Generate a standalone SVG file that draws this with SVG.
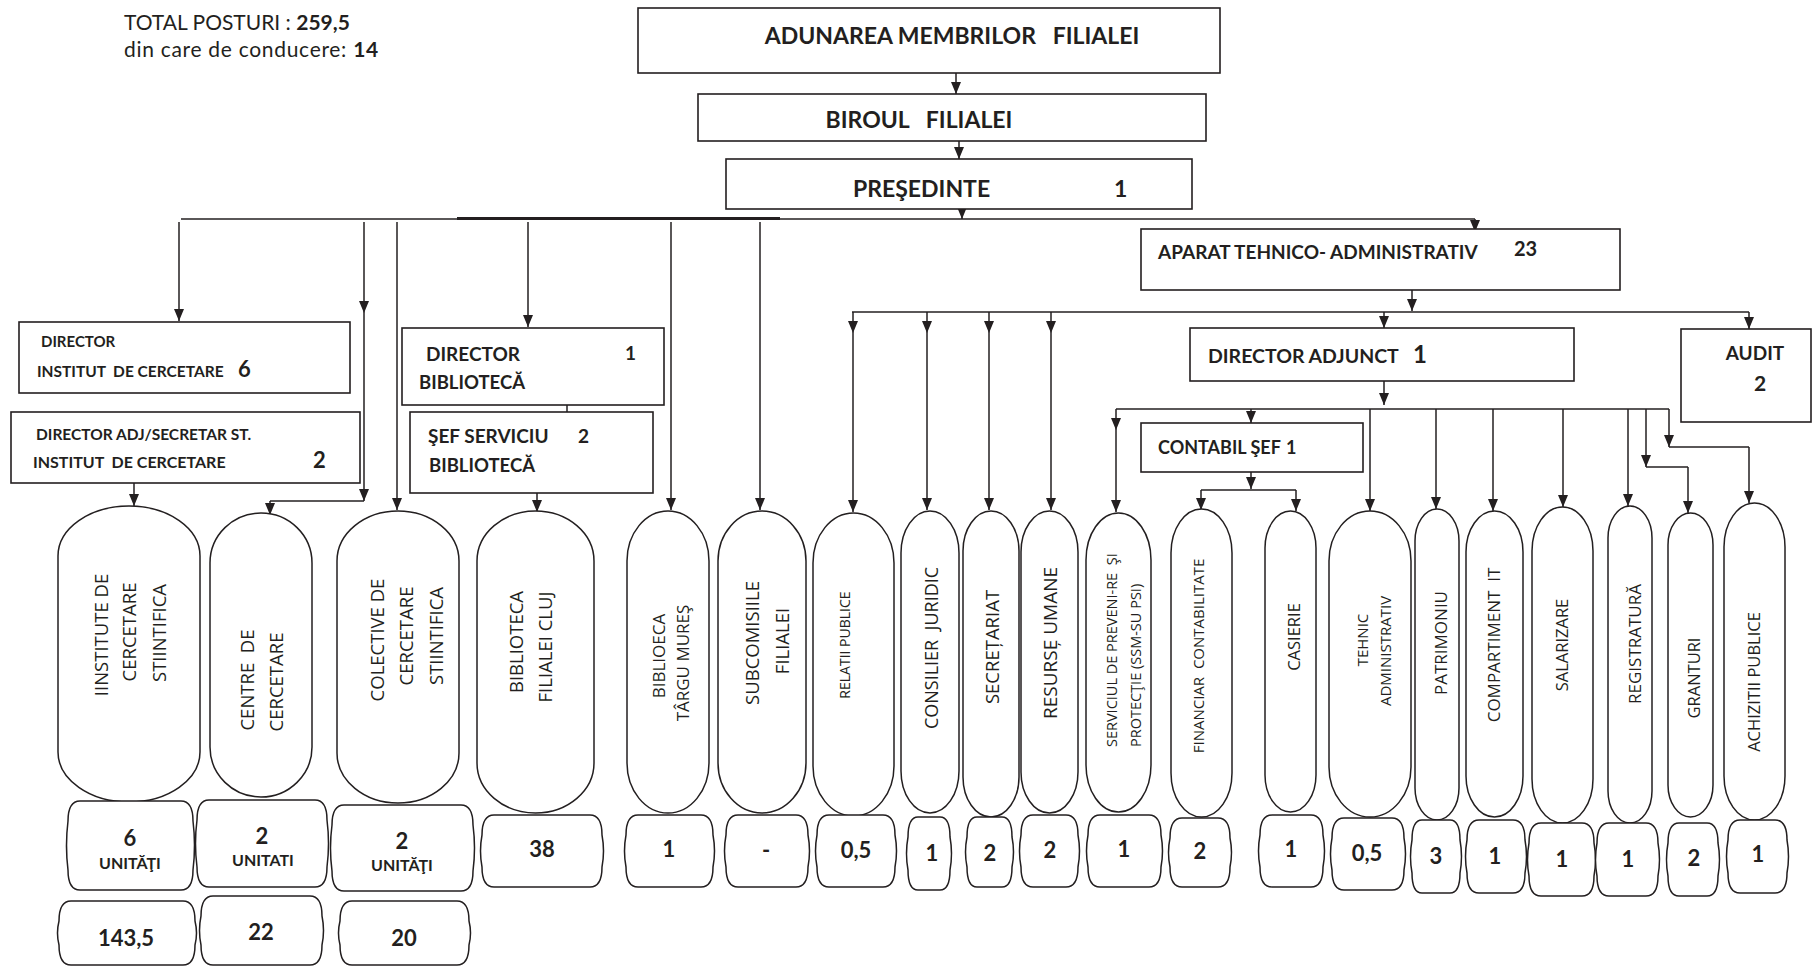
<svg xmlns="http://www.w3.org/2000/svg" width="1812" height="967" viewBox="0 0 1812 967">
<style>
.bx{fill:#fff;stroke:#231f20;stroke-width:1.6}
.pill{fill:#fff;stroke:#231f20;stroke-width:1.5}
.cn{fill:#fff;stroke:#231f20;stroke-width:1.5}
.ln{fill:none;stroke:#231f20;stroke-width:1.5}
.thick{fill:none;stroke:#231f20;stroke-width:3}
.ar{fill:none;stroke:#231f20;stroke-width:1.5;marker-end:url(#ah)}
.b{font-family:Lato,'Open Sans',sans-serif;font-weight:700;fill:#231f20}
.r{font-family:Lato,'Open Sans',sans-serif;font-weight:400;fill:#231f20}
.v{font-family:'Open Sans','DejaVu Sans',sans-serif;fill:#231f20;text-anchor:middle}
.vs{font-family:'Open Sans','DejaVu Sans',sans-serif;fill:#231f20;text-anchor:start}
.n{font-family:Lato,'Open Sans',sans-serif;font-weight:700;fill:#231f20;text-anchor:middle;font-size:22px}
.u{font-family:Lato,'Open Sans',sans-serif;font-weight:700;fill:#231f20;text-anchor:middle;font-size:16px}
</style>
<defs>
<marker id="ah" viewBox="0 0 12 10" refX="12" refY="5" markerWidth="12" markerHeight="10" markerUnits="userSpaceOnUse" orient="auto"><path d="M0,0 L12,5 L0,10 z" fill="#231f20"/></marker>
</defs>
<rect width="1812" height="967" fill="#fff"/>

<g id="totals">
<text class="r" x="124" y="30" font-size="21" xml:space="preserve">TOTAL POSTURI : <tspan class="b">259,5</tspan></text>
<text class="r" x="124" y="57" font-size="21" letter-spacing="0.7" xml:space="preserve">din care de conducere: <tspan class="b">14</tspan></text>
</g>

<g id="connectors">
<path class="ar" d="M956,73 V94"/>
<path class="ar" d="M959,141 V159"/>
<path class="ar" d="M962,209 V219"/>
<path class="ln" d="M181,219 H1475"/>
<path class="thick" d="M457,218.5 H780"/>
<path class="ar" d="M179,222 V321"/>
<path class="ar" d="M364,222 V313"/>
<path class="ar" d="M364,313 V501"/>
<path class="ln" d="M364,501 H270"/>
<path class="ar" d="M270,501 V515"/>
<path class="ar" d="M397,222 V510"/>
<path class="ar" d="M528,222 V327"/>
<path class="ar" d="M671,222 V510"/>
<path class="ar" d="M760,222 V510"/>
<path class="ar" d="M1475,219 V232"/>
<path class="ar" d="M567,405 V424"/>
<path class="ar" d="M134,483 V506"/>
<path class="ar" d="M537,493 V512"/>
<path class="ar" d="M177,527 V547"/>
<path class="ar" d="M1412,290 V311"/>
<path class="ln" d="M852,312 H1749"/>
<path class="ar" d="M853,312 V333"/>
<path class="ar" d="M853,333 V512"/>
<path class="ar" d="M927,312 V333"/>
<path class="ar" d="M927,333 V510"/>
<path class="ar" d="M989,312 V333"/>
<path class="ar" d="M989,333 V510"/>
<path class="ar" d="M1051,312 V333"/>
<path class="ar" d="M1051,333 V510"/>
<path class="ar" d="M1384,312 V328"/>
<path class="ar" d="M1749,312 V329"/>
<path class="ar" d="M1384,381 V405"/>
<path class="ln" d="M1116,409 H1669"/>
<path class="ar" d="M1116,409 V430"/>
<path class="ar" d="M1116,430 V512"/>
<path class="ar" d="M1251,409 V423"/>
<path class="ar" d="M1251,472 V489"/>
<path class="ln" d="M1201,490 H1296"/>
<path class="ar" d="M1201,490 V510"/>
<path class="ar" d="M1296,490 V511"/>
<path class="ar" d="M1370,409 V511"/>
<path class="ar" d="M1436,409 V509"/>
<path class="ar" d="M1493,409 V511"/>
<path class="ar" d="M1563,409 V507"/>
<path class="ar" d="M1628,409 V506"/>
<path class="ar" d="M1646,409 V467"/>
<path class="ln" d="M1646,467 H1688"/>
<path class="ar" d="M1688,467 V513"/>
<path class="ar" d="M1669,409 V447"/>
<path class="ln" d="M1669,447 H1749"/>
<path class="ar" d="M1749,447 V503"/>
</g>

<g id="adunarea"><rect class="bx" x="638" y="8" width="582" height="65"/><text class="b" x="952" y="44" font-size="23" text-anchor="middle" xml:space="preserve">ADUNAREA MEMBRILOR   FILIALEI</text></g>
<g id="biroul"><rect class="bx" x="698" y="94" width="508" height="47"/><text class="b" x="919" y="128" font-size="23" text-anchor="middle" xml:space="preserve">BIROUL   FILIALEI</text></g>
<g id="presedinte"><rect class="bx" x="726" y="159" width="466" height="50"/><text class="b" x="853" y="197" font-size="23">PREŞEDINTE</text><text class="b" x="1114" y="197" font-size="23">1</text></g>

<g id="dir-institut"><rect class="bx" x="19" y="322" width="331" height="71"/><text class="b" x="41" y="347" font-size="15">DIRECTOR</text><text class="b" x="37" y="377" font-size="15.5" xml:space="preserve">INSTITUT  DE CERCETARE</text><text class="b" x="238" y="377" font-size="22">6</text></g>
<g id="dir-adj-institut"><rect class="bx" x="11" y="412" width="349" height="71"/><text class="b" x="36" y="440" font-size="15.5">DIRECTOR ADJ/SECRETAR ST.</text><text class="b" x="33" y="468" font-size="16" xml:space="preserve">INSTITUT  DE CERCETARE</text><text class="b" x="313" y="468" font-size="22">2</text></g>
<g id="dir-biblioteca"><rect class="bx" x="402" y="328" width="262" height="77"/><text class="b" x="426" y="361" font-size="19">DIRECTOR</text><text class="b" x="625" y="360" font-size="19">1</text><text class="b" x="419" y="389" font-size="18.5">BIBLIOTECĂ</text></g>
<g id="sef-serviciu"><rect class="bx" x="410" y="412" width="243" height="81"/><text class="b" x="428" y="443" font-size="19">ŞEF SERVICIU</text><text class="b" x="578" y="443" font-size="19">2</text><text class="b" x="429" y="472" font-size="18.5">BIBLIOTECĂ</text></g>

<g id="aparat"><rect class="bx" x="1141" y="229" width="479" height="61"/><text class="b" x="1158" y="259" font-size="19">APARAT TEHNICO- ADMINISTRATIV</text><text class="b" x="1514" y="256" font-size="20">23</text></g>
<g id="director-adjunct"><rect class="bx" x="1190" y="328" width="384" height="53"/><text class="b" x="1208" y="363" font-size="19.5">DIRECTOR ADJUNCT</text><text class="b" x="1413" y="363" font-size="24">1</text></g>
<g id="audit"><rect class="bx" x="1681" y="329" width="130" height="93"/><text class="b" x="1755" y="360" font-size="19" text-anchor="middle">AUDIT</text><text class="b" x="1760" y="391" font-size="21" text-anchor="middle">2</text></g>
<g id="contabil-sef"><rect class="bx" x="1141" y="423" width="222" height="49"/><text class="b" x="1158" y="454" font-size="18">CONTABIL ŞEF</text><text class="b" x="1286" y="454" font-size="18">1</text></g>

<g id="institute"><rect class="pill" x="58" y="506" width="142" height="296" rx="71" ry="50"/>
<text class="v" font-size="18.5" transform="translate(108,635) rotate(-90)">IINSTITUTE DE</text>
<text class="v" font-size="18.5" transform="translate(136,632) rotate(-90)">CERCETARE</text>
<text class="v" font-size="18.5" transform="translate(166,633) rotate(-90)">STIINTIFICA</text>
<path class="cn" d="M80,801 H181 Q193,801 193,821 Q196,845.5 193,870 Q193,890 181,890 H80 Q68,890 68,870 Q65,845.5 68,821 Q68,801 80,801 Z"/>
<text class="n" x="130" y="846">6</text><text class="u" x="130" y="869">UNITĂŢI</text>
<path class="cn" d="M71,901 H183 Q195,901 195,921 Q198,933 195,945 Q195,965 183,965 H71 Q59,965 59,945 Q56,933 59,921 Q59,901 71,901 Z"/>
<text class="n" x="126" y="946">143,5</text>
</g>

<g id="centre"><rect class="pill" x="210" y="513" width="102" height="284" rx="51" ry="50"/>
<text class="v" font-size="18.5" transform="translate(254,680) rotate(-90)" xml:space="preserve">CENTRE  DE</text>
<text class="v" font-size="18.5" transform="translate(283,682) rotate(-90)">CERCETARE</text>
<path class="cn" d="M209,800 H315 Q327,800 327,820 Q330,843.5 327,867 Q327,887 315,887 H209 Q197,887 197,867 Q194,843.5 197,820 Q197,800 209,800 Z"/>
<text class="n" x="262" y="844">2</text><text class="u" x="263" y="866">UNITATI</text>
<path class="cn" d="M213,896 H310 Q322,896 322,916 Q325,930.5 322,945 Q322,965 310,965 H213 Q201,965 201,945 Q198,930.5 201,916 Q201,896 213,896 Z"/>
<text class="n" x="261" y="940">22</text>
</g>

<g id="colective"><rect class="pill" x="337" y="511" width="122" height="292" rx="61" ry="50"/>
<text class="v" font-size="18.5" transform="translate(384,640) rotate(-90)">COLECTIVE DE</text>
<text class="v" font-size="18.5" transform="translate(413,636) rotate(-90)">CERCETARE</text>
<text class="v" font-size="18.5" transform="translate(443,636) rotate(-90)">STIINTIFICA</text>
<path class="cn" d="M344,805 H461 Q473,805 473,825 Q476,848 473,871 Q473,891 461,891 H344 Q332,891 332,871 Q329,848 332,825 Q332,805 344,805 Z"/>
<text class="n" x="402" y="849">2</text><text class="u" x="402" y="871">UNITĂŢI</text>
<path class="cn" d="M352,901 H457 Q469,901 469,921 Q472,933 469,945 Q469,965 457,965 H352 Q340,965 340,945 Q337,933 340,921 Q340,901 352,901 Z"/>
<text class="n" x="404" y="946">20</text>
</g>

<g id="biblioteca-cluj"><rect class="pill" x="477" y="511" width="117" height="302" rx="58.5" ry="50"/>
<text class="v" font-size="18.5" transform="translate(523,642) rotate(-90)">BIBLIOTECA</text>
<text class="v" font-size="18.5" transform="translate(552,647) rotate(-90)">FILIALEI CLUJ</text>
<path class="cn" d="M494,815 H590 Q602,815 602,835 Q605,851 602,867 Q602,887 590,887 H494 Q482,887 482,867 Q479,851 482,835 Q482,815 494,815 Z"/>
<text class="n" x="542" y="857">38</text>
</g>

<g id="biblioteca-tg-mures"><rect class="pill" x="627" y="511" width="82" height="302" rx="41" ry="50"/>
<text class="v" font-size="17" transform="translate(665,656) rotate(-90)">BIBLIOECA</text>
<text class="v" font-size="17" transform="translate(689,663) rotate(-90)">TÂRGU MUREŞ</text>
<path class="cn" d="M638,815 H701 Q713,815 713,835 Q716,851 713,867 Q713,887 701,887 H638 Q626,887 626,867 Q623,851 626,835 Q626,815 638,815 Z"/>
<text class="n" x="669" y="857">1</text>
</g>

<g id="subcomisiile"><rect class="pill" x="718" y="511" width="88" height="302" rx="44" ry="50"/>
<text class="v" font-size="18.5" transform="translate(759,643) rotate(-90)">SUBCOMISIILE</text>
<text class="v" font-size="18.5" transform="translate(789,641) rotate(-90)">FILIALEI</text>
<path class="cn" d="M738,815 H796 Q808,815 808,835 Q811,851 808,867 Q808,887 796,887 H738 Q726,887 726,867 Q723,851 726,835 Q726,815 738,815 Z"/>
<text class="n" x="766" y="858">-</text>
</g>

<g id="relatii-publice"><rect class="pill" x="813" y="513" width="81" height="303" rx="40.5" ry="50"/>
<text class="v" font-size="14" transform="translate(850,645) rotate(-90)">RELATII PUBLICE</text>
<path class="cn" d="M829,815 H883 Q895,815 895,835 Q898,851 895,867 Q895,887 883,887 H829 Q817,887 817,867 Q814,851 817,835 Q817,815 829,815 Z"/>
<text class="n" x="856" y="858">0,5</text>
</g>

<g id="consilier-juridic"><rect class="pill" x="901" y="511" width="58" height="302" rx="29" ry="42"/>
<text class="v" font-size="18" transform="translate(938,648) rotate(-90)" xml:space="preserve">CONSILIER  JURIDIC</text>
<path class="cn" d="M918,817 H940 Q950,817 950,837 Q953,853.5 950,870 Q950,890 940,890 H918 Q908,890 908,870 Q905,853.5 908,837 Q908,817 918,817 Z"/>
<text class="n" x="932" y="861">1</text>
</g>

<g id="secretariat"><rect class="pill" x="963" y="511" width="56" height="306" rx="28" ry="40"/>
<text class="v" font-size="18.5" transform="translate(999,647) rotate(-90)">SECREȚARIAT</text>
<path class="cn" d="M977,817 H1002 Q1012,817 1012,837 Q1015,852 1012,867 Q1012,887 1002,887 H977 Q967,887 967,867 Q964,852 967,837 Q967,817 977,817 Z"/>
<text class="n" x="990" y="861">2</text>
</g>

<g id="resurse-umane"><rect class="pill" x="1021" y="511" width="57" height="302" rx="28.5" ry="41"/>
<text class="v" font-size="19" transform="translate(1057,643) rotate(-90)">RESURSE̦ UMANE</text>
<path class="cn" d="M1033,815 H1066 Q1078,815 1078,835 Q1081,851 1078,867 Q1078,887 1066,887 H1033 Q1021,887 1021,867 Q1018,851 1021,835 Q1021,815 1033,815 Z"/>
<text class="n" x="1050" y="858">2</text>
</g>

<g id="serviciul-prevenire"><rect class="pill" x="1086" y="513" width="65" height="299" rx="32.5" ry="47"/>
<text class="vs" font-size="14.5" transform="translate(1117,747) rotate(-90)" xml:space="preserve">SERVICIUL DE PREVENI-RE  ŞI</text>
<text class="vs" font-size="14.5" transform="translate(1141,747) rotate(-90)">PROTECŢIE (SSM-SU PSI)</text>
<path class="cn" d="M1100,815 H1149 Q1161,815 1161,835 Q1164,851 1161,867 Q1161,887 1149,887 H1100 Q1088,887 1088,867 Q1085,851 1088,835 Q1088,815 1100,815 Z"/>
<text class="n" x="1124" y="857">1</text>
</g>

<g id="financiar-contabilitate"><rect class="pill" x="1171" y="509" width="61" height="308" rx="30.5" ry="44"/>
<text class="v" font-size="15" transform="translate(1204,656) rotate(-90)" xml:space="preserve">FINANCIAR  CONTABILITATE</text>
<path class="cn" d="M1182,818 H1218 Q1230,818 1230,838 Q1233,852.5 1230,867 Q1230,887 1218,887 H1182 Q1170,887 1170,867 Q1167,852.5 1170,838 Q1170,818 1182,818 Z"/>
<text class="n" x="1200" y="859">2</text>
</g>

<g id="casierie"><rect class="pill" x="1265" y="511" width="51" height="301" rx="25.5" ry="37"/>
<text class="v" font-size="16.5" transform="translate(1300,637) rotate(-90)">CASIERIE</text>
<path class="cn" d="M1272,815 H1311 Q1323,815 1323,835 Q1326,851 1323,867 Q1323,887 1311,887 H1272 Q1260,887 1260,867 Q1257,851 1260,835 Q1260,815 1272,815 Z"/>
<text class="n" x="1291" y="857">1</text>
</g>

<g id="tehnic-administrativ"><rect class="pill" x="1329" y="511" width="82" height="306" rx="41" ry="50"/>
<text class="v" font-size="15" transform="translate(1368,640) rotate(-90)">TEHNIC</text>
<text class="v" font-size="15" transform="translate(1391,651) rotate(-90)">ADMINISTRATIV</text>
<path class="cn" d="M1344,818 H1392 Q1404,818 1404,838 Q1407,854 1404,870 Q1404,890 1392,890 H1344 Q1332,890 1332,870 Q1329,854 1332,838 Q1332,818 1344,818 Z"/>
<text class="n" x="1367" y="861">0,5</text>
</g>

<g id="patrimoniu"><rect class="pill" x="1415" y="509" width="44" height="311" rx="22" ry="32"/>
<text class="v" font-size="17" transform="translate(1447,643) rotate(-90)">PATRIMONIU</text>
<path class="cn" d="M1422,820 H1450 Q1460,820 1460,840 Q1463,856.5 1460,873 Q1460,893 1450,893 H1422 Q1412,893 1412,873 Q1409,856.5 1412,840 Q1412,820 1422,820 Z"/>
<text class="n" x="1436" y="864">3</text>
</g>

<g id="compartiment-it"><rect class="pill" x="1466" y="511" width="57" height="306" rx="28.5" ry="41"/>
<text class="v" font-size="17" transform="translate(1500,645) rotate(-90)" xml:space="preserve">COMPARTIMENT  IT</text>
<path class="cn" d="M1479,820 H1513 Q1525,820 1525,840 Q1528,856.5 1525,873 Q1525,893 1513,893 H1479 Q1467,893 1467,873 Q1464,856.5 1467,840 Q1467,820 1479,820 Z"/>
<text class="n" x="1495" y="864">1</text>
</g>

<g id="salarizare"><rect class="pill" x="1532" y="507" width="61" height="316" rx="30.5" ry="44"/>
<text class="v" font-size="16.5" transform="translate(1568,645) rotate(-90)">SALARIZARE</text>
<path class="cn" d="M1541,823 H1582 Q1594,823 1594,843 Q1597,859.5 1594,876 Q1594,896 1582,896 H1541 Q1529,896 1529,876 Q1526,859.5 1529,843 Q1529,823 1541,823 Z"/>
<text class="n" x="1562" y="867">1</text>
</g>

<g id="registratura"><rect class="pill" x="1608" y="506" width="44" height="317" rx="22" ry="32"/>
<text class="v" font-size="17" transform="translate(1641,644) rotate(-90)">REGISTRATURĂ</text>
<path class="cn" d="M1609,823 H1646 Q1658,823 1658,843 Q1661,859.5 1658,876 Q1658,896 1646,896 H1609 Q1597,896 1597,876 Q1594,859.5 1597,843 Q1597,823 1609,823 Z"/>
<text class="n" x="1628" y="867">1</text>
</g>

<g id="granturi"><rect class="pill" x="1668" y="513" width="45" height="304" rx="22.5" ry="32"/>
<text class="v" font-size="16.5" transform="translate(1700,678) rotate(-90)">GRANTURI</text>
<path class="cn" d="M1679,823 H1707 Q1718,823 1718,843 Q1721,859.5 1718,876 Q1718,896 1707,896 H1679 Q1668,896 1668,876 Q1665,859.5 1668,843 Q1668,823 1679,823 Z"/>
<text class="n" x="1694" y="866">2</text>
</g>

<g id="achizitii-publice"><rect class="pill" x="1724" y="503" width="61" height="317" rx="30.5" ry="44"/>
<text class="v" font-size="16.5" transform="translate(1760,682) rotate(-90)">ACHIZITII PUBLICE</text>
<path class="cn" d="M1740,820 H1775 Q1787,820 1787,840 Q1790,856.5 1787,873 Q1787,893 1775,893 H1740 Q1728,893 1728,873 Q1725,856.5 1728,840 Q1728,820 1740,820 Z"/>
<text class="n" x="1758" y="862">1</text>
</g>
</svg>
